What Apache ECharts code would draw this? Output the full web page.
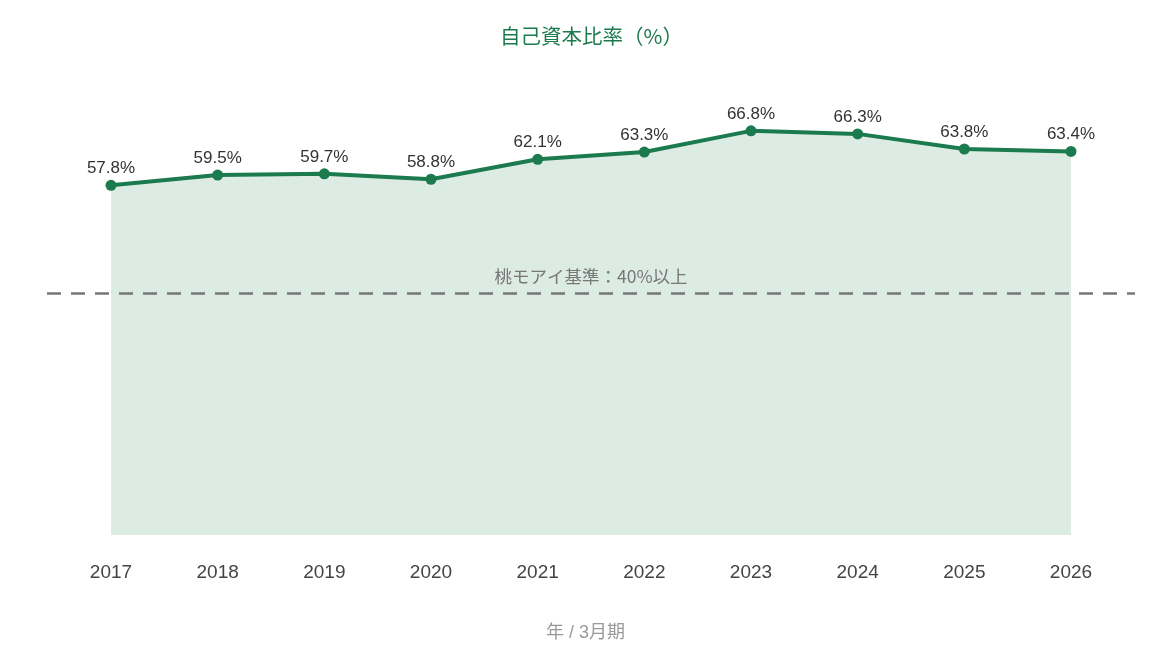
<!DOCTYPE html>
<html>
<head>
<meta charset="utf-8">
<script src="https://cdn.jsdelivr.net/npm/echarts@6/dist/echarts.min.js"></script>
<style>
  html, body { margin: 0; padding: 0; background: #fff; }
  #chart { width: 1170px; height: 660px; }
</style>
</head>
<body>
<div id="chart"></div>
<script>
var years = ["2017", "2018", "2019", "2020", "2021", "2022", "2023", "2024", "2025", "2026"];
var ratio = [57.8, 59.5, 59.7, 58.8, 62.1, 63.3, 66.8, 66.3, 63.8, 63.4];
var benchmark = 40;
var benchmarkLabel = "桃モアイ基準：40%以上";

var green = "#1b7a4e";
var font = "'Liberation Sans', 'Noto Sans CJK JP', sans-serif";
var cjkFont = "'Noto Sans CJK JP', 'Liberation Sans', sans-serif";

var myChart = echarts.init(document.getElementById("chart"));
var option = {
  textStyle: { fontFamily: font },
  title: {
    text: "自己資本比率（%）",
    left: 495,
    top: 21,
    textStyle: { color: green, fontSize: 20.5, fontWeight: "normal", fontFamily: cjkFont }
  },
  grid: [
    { left: 111, right: 99, top: 51, bottom: 125 },
    { left: 47, right: 35, top: 51, bottom: 125 }
  ],
  xAxis: [
    {
      type: "category",
      gridIndex: 0,
      data: years,
      boundaryGap: false,
      axisLine: { show: false },
      axisTick: { show: false },
      axisLabel: { color: "#444", fontSize: 19, margin: 28, fontFamily: font },
      name: "年 / 3月期",
      nameLocation: "middle",
      nameGap: 89,
      nameTextStyle: { color: "#999", fontSize: 18, fontFamily: font, padding: [0, 11, 0, 0] }
    },
    { type: "value", gridIndex: 1, min: 0, max: 1, show: false }
  ],
  yAxis: [
    { type: "value", gridIndex: 0, min: 0, max: 80, show: false },
    { type: "value", gridIndex: 1, min: 0, max: 80, show: false }
  ],
  series: [
    {
      name: "自己資本比率",
      type: "line",
      xAxisIndex: 0,
      yAxisIndex: 0,
      data: ratio,
      symbol: "circle",
      symbolSize: 11,
      lineStyle: { color: green, width: 4 },
      itemStyle: { color: green },
      areaStyle: { color: "#dcebe3", opacity: 1 },
      label: {
        show: true,
        position: "top",
        distance: 3,
        formatter: "{c}%",
        color: "#333",
        fontSize: 17,
        fontFamily: font
      },
      z: 3
    },
    {
      name: "基準",
      type: "line",
      xAxisIndex: 1,
      yAxisIndex: 1,
      data: [],
      silent: true,
      z: 4,
      markLine: {
        symbol: "none",
        silent: true,
        lineStyle: { color: "#777", type: [14, 10], width: 2.5 },
        label: {
          show: true,
          position: "middle",
          formatter: benchmarkLabel,
          color: "#777",
          fontSize: 17.5,
          distance: 8,
          fontFamily: cjkFont
        },
        data: [{ yAxis: benchmark }]
      }
    }
  ]
};
myChart.setOption(option);
</script>
</body>
</html>
